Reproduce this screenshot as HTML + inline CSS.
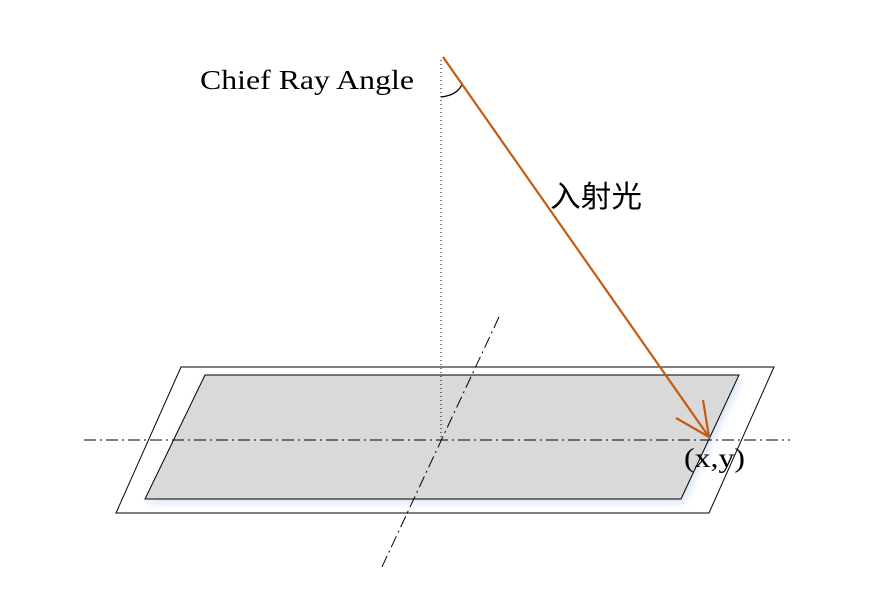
<!DOCTYPE html>
<html><head><meta charset="utf-8"><style>html,body{margin:0;padding:0;background:#fff}svg{display:block}</style></head>
<body>
<svg width="890" height="606" xmlns="http://www.w3.org/2000/svg">
<defs><filter id="g" x="-10%" y="-20%" width="120%" height="140%"><feGaussianBlur stdDeviation="4"/></filter></defs>
<polygon points="181,367 774,367 709,513 116,513" fill="#fff" stroke="#000" stroke-width="1"/>
<polygon points="208,379 742,379 684,503 148,503" fill="#cfe0f5" filter="url(#g)" opacity="0.8"/>
<polygon points="205,375 739,375 681,499 145,499" fill="#d9d9d9" stroke="#000" stroke-width="1"/>
<line x1="84" y1="440" x2="790" y2="440" stroke="#000" stroke-width="1" stroke-dasharray="12,4,2,4"/>
<line x1="499" y1="317" x2="381" y2="569" stroke="#000" stroke-width="1" stroke-dasharray="12,4,2,4"/>
<line x1="441" y1="60" x2="441" y2="440" stroke="#000" stroke-width="1" stroke-dasharray="1,3"/>
<path d="M441,97 Q458,95 462,84" fill="none" stroke="#000" stroke-width="1.2"/>
<line x1="443" y1="57" x2="709" y2="437" stroke="#c55a11" stroke-width="2.2"/>
<polyline points="676,418 709,437 703,400" fill="none" stroke="#c55a11" stroke-width="2.2"/>
<text x="200" y="89" font-family="Liberation Serif, serif" font-size="27" textLength="214" lengthAdjust="spacingAndGlyphs">Chief Ray Angle</text>
<text x="550" y="207" font-family="'Liberation Sans','Noto Sans CJK SC',sans-serif" font-size="30" textLength="92" lengthAdjust="spacingAndGlyphs">入射光</text>
<text x="684" y="467" font-family="Liberation Serif, serif" font-size="27" textLength="61" lengthAdjust="spacingAndGlyphs">(x,y)</text>
</svg>
</body></html>
